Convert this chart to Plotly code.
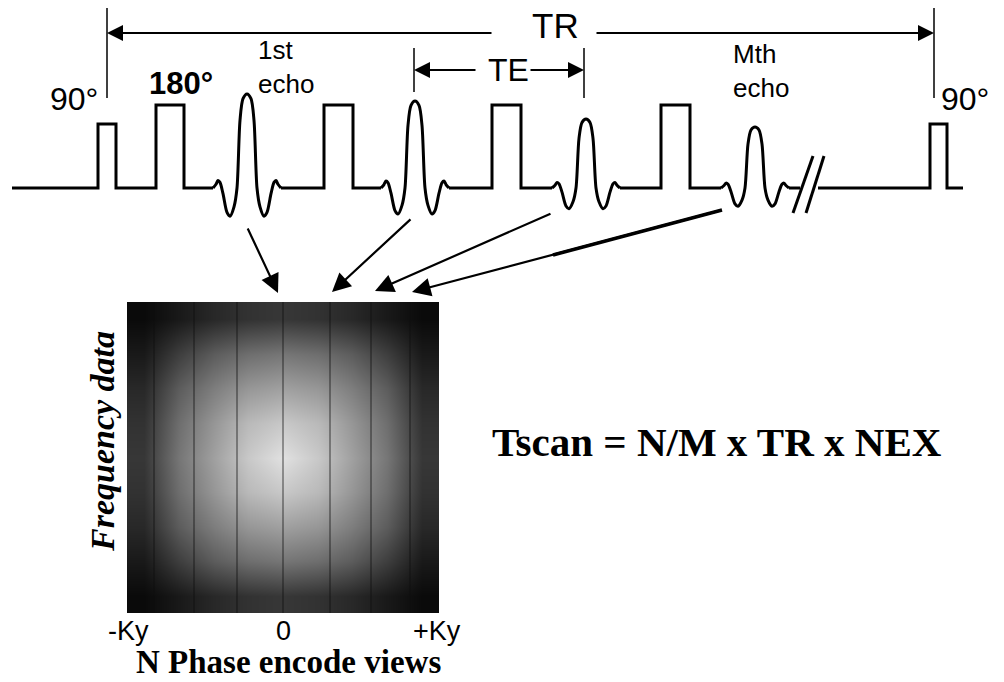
import plotly.graph_objects as go

# ---------------- data (pixel-space diagram, y grows downward) ----------------
W, H = 1004, 682
baseline_y = 188
baseline_start, baseline_end = 12, 963
break_gap = [800, 818]

pulse_left = [98, 156, 324, 492, 661, 930]
pulse_right = [116, 184, 353, 521, 690, 947]
pulse_top = [124, 105, 105, 105, 105, 124]

echo_center = [247, 415, 586, 755]
echo_amp = [94, 87, 69, 61]
# normalized echo waveform knots (offset px, fraction of amplitude)
echo_off = [-34, -31, -29, -27, -24, -20, -17, -13, -10, -7, -4, 0, 4, 7, 10, 13, 17, 20, 24, 27, 29, 31, 34]
echo_frac = [0, 0.04, 0.08, 0.06, -0.06, -0.26, -0.3, -0.2, 0, 0.72, 0.95, 1.0, 0.95, 0.72, 0, -0.2, -0.3, -0.26, -0.06, 0.06, 0.08, 0.04, 0]

slash_x0 = [793, 806]
slash_x1 = [813, 824]
slash_y = [213, 156]

# dimension ticks (x, y_top, y_bottom)
tick_x = [107, 934, 414, 584]
tick_y0 = [8, 8, 48, 48]
tick_y1 = [98, 98, 92, 98]

# TR / TE dimension arrows: head x, tail x, y
dim_head_x = [107, 934, 414, 584]
dim_tail_x = [493, 595, 477, 529]
dim_y = [33, 33, 70, 70]

# echo -> k-space arrows (tail -> head)
karrow_tail = [(247, 227), (412, 218), (552, 213), (722, 210)]
karrow_head = [(278, 293), (332, 292), (375, 291), (412, 292)]
thick_seg_x = [722, 553]
thick_seg_y = [210, 255]

# k-space image: brightness quadrant (0-255), centre -> edge, mirrored to 9x9
k_left, k_right, k_top, k_bottom = 127, 439, 302, 613
k_quadrant = [
    [225, 200, 160, 118, 55],
    [200, 185, 150, 110, 50],
    [160, 150, 125, 92, 40],
    [118, 110, 92, 62, 25],
    [55, 50, 40, 25, 10],
]
phase_lines_x = [154, 194, 237, 283, 330, 371, 410]

ky_labels = ["-Ky", "0", "+Ky"]
ky_label_x = [128, 283, 437]

SANS = "Liberation Sans, Arial, sans-serif"
SERIF = "Liberation Serif, Times New Roman, serif"

fig = go.Figure()

# ---------------- k-space heatmap ----------------
idx = [4, 3, 2, 1, 0, 1, 2, 3, 4]
k_z = [[k_quadrant[i][j] for j in idx] for i in idx]
n = len(k_z)
cw = (k_right - k_left) / n
ch = (k_bottom - k_top) / n
kx = [k_left + cw * (i + 0.5) for i in range(n)]
ky = [k_top + ch * (i + 0.5) for i in range(n)]
fig.add_trace(go.Heatmap(
    x=kx, y=ky, z=k_z, zmin=0, zmax=255, zsmooth="best",
    colorscale=[[0, "rgb(0,0,0)"], [1, "rgb(255,255,255)"]],
    showscale=False, hoverinfo="skip",
))
lx, ly = [], []
for x in phase_lines_x:
    lx += [x, x, None]
    ly += [k_top, k_bottom, None]
fig.add_trace(go.Scatter(x=lx, y=ly, mode="lines",
                         line=dict(color="rgba(15,15,15,0.75)", width=1),
                         hoverinfo="skip", showlegend=False))

# ---------------- pulse sequence (baseline + RF pulses) ----------------
events = []
for l, r, t in zip(pulse_left, pulse_right, pulse_top):
    events.append((l, "pulse", (l, r, t)))
for c in echo_center:
    events.append((c + echo_off[0], "echo", c))
events.append((break_gap[0], "break", None))
events.sort(key=lambda e: e[0])

px, py = [baseline_start], [baseline_y]
for pos, kind, info in events:
    if kind == "pulse":
        l, r, t = info
        px += [l, l, r, r]
        py += [baseline_y, t, t, baseline_y]
    elif kind == "echo":
        c = info
        px += [c + echo_off[0], None, c + echo_off[-1]]
        py += [baseline_y, None, baseline_y]
    else:
        px += [break_gap[0], None, break_gap[1]]
        py += [baseline_y, None, baseline_y]
px.append(baseline_end)
py.append(baseline_y)
fig.add_trace(go.Scatter(x=px, y=py, mode="lines",
                         line=dict(color="black", width=3),
                         hoverinfo="skip", showlegend=False))

for c, a in zip(echo_center, echo_amp):
    fig.add_trace(go.Scatter(
        x=[c + o for o in echo_off],
        y=[baseline_y - a * f for f in echo_frac],
        mode="lines", line=dict(color="black", width=3, shape="spline", smoothing=0.8),
        hoverinfo="skip", showlegend=False))

# break slashes
for x0, x1 in zip(slash_x0, slash_x1):
    fig.add_trace(go.Scatter(x=[x0, x1], y=slash_y, mode="lines",
                             line=dict(color="black", width=3),
                             hoverinfo="skip", showlegend=False))

# dimension ticks
tx, ty = [], []
for x, a, b in zip(tick_x, tick_y0, tick_y1):
    tx += [x, x, None]
    ty += [a, b, None]
fig.add_trace(go.Scatter(x=tx, y=ty, mode="lines",
                         line=dict(color="black", width=1.5),
                         hoverinfo="skip", showlegend=False))

# thick upper part of the last k-space arrow
fig.add_trace(go.Scatter(x=thick_seg_x, y=thick_seg_y, mode="lines",
                         line=dict(color="black", width=3.5),
                         hoverinfo="skip", showlegend=False))

annotations = []
for hx, tx_, yy in zip(dim_head_x, dim_tail_x, dim_y):
    annotations.append(dict(x=hx, y=yy, ax=tx_, ay=yy, xref="x", yref="y",
                            axref="x", ayref="y", text="", showarrow=True,
                            arrowhead=2, arrowsize=1.6, arrowwidth=2, arrowcolor="black",
                            standoff=0, startstandoff=0))
for (tx_, ty_), (hx, hy) in zip(karrow_tail, karrow_head):
    annotations.append(dict(x=hx, y=hy, ax=tx_, ay=ty_, xref="x", yref="y",
                            axref="x", ayref="y", text="", showarrow=True,
                            arrowhead=2, arrowsize=1.7, arrowwidth=2.2, arrowcolor="black",
                            standoff=0, startstandoff=0))


def label(text, x, y, size, family=SANS, weight="normal", style="normal", angle=0,
          xanchor="center", align="center"):
    annotations.append(dict(text=text, x=x, y=y, xref="x", yref="y", showarrow=False,
                            xanchor=xanchor, yanchor="middle", textangle=angle, align=align,
                            font=dict(family=family, size=size, color="black",
                                      weight=weight, style=style)))


label("TR", 555, 25, 35)
label("TE", 508, 70, 32)
label("90°", 74, 99, 32)
label("180°", 181, 83, 31, weight="bold")
label("90°", 965, 99, 32)
label("1st<br>echo", 256, 67, 26, xanchor="left", align="left")
label("Mth<br>echo", 731, 71, 26, xanchor="left", align="left")
for t, x in zip(ky_labels, ky_label_x):
    label(t, x, 631, 27)
label("N Phase encode views", 288, 662, 33, family=SERIF, weight="bold")
label("Frequency data", 102, 442, 34, family=SERIF, weight="bold", style="italic", angle=-90)
label("Tscan = N/M x TR x NEX", 717, 442, 41, family=SERIF, weight="bold")

fig.update_layout(
    width=W, height=H, autosize=False,
    margin=dict(l=0, r=0, t=0, b=0, pad=0),
    paper_bgcolor="white", plot_bgcolor="white",
    showlegend=False, annotations=annotations,
    xaxis=dict(range=[0, W], visible=False, fixedrange=True),
    yaxis=dict(range=[H, 0], visible=False, fixedrange=True),
)

fig.write_html("out.html", config={"displayModeBar": False},
               post_script="document.body.style.margin='0';")
